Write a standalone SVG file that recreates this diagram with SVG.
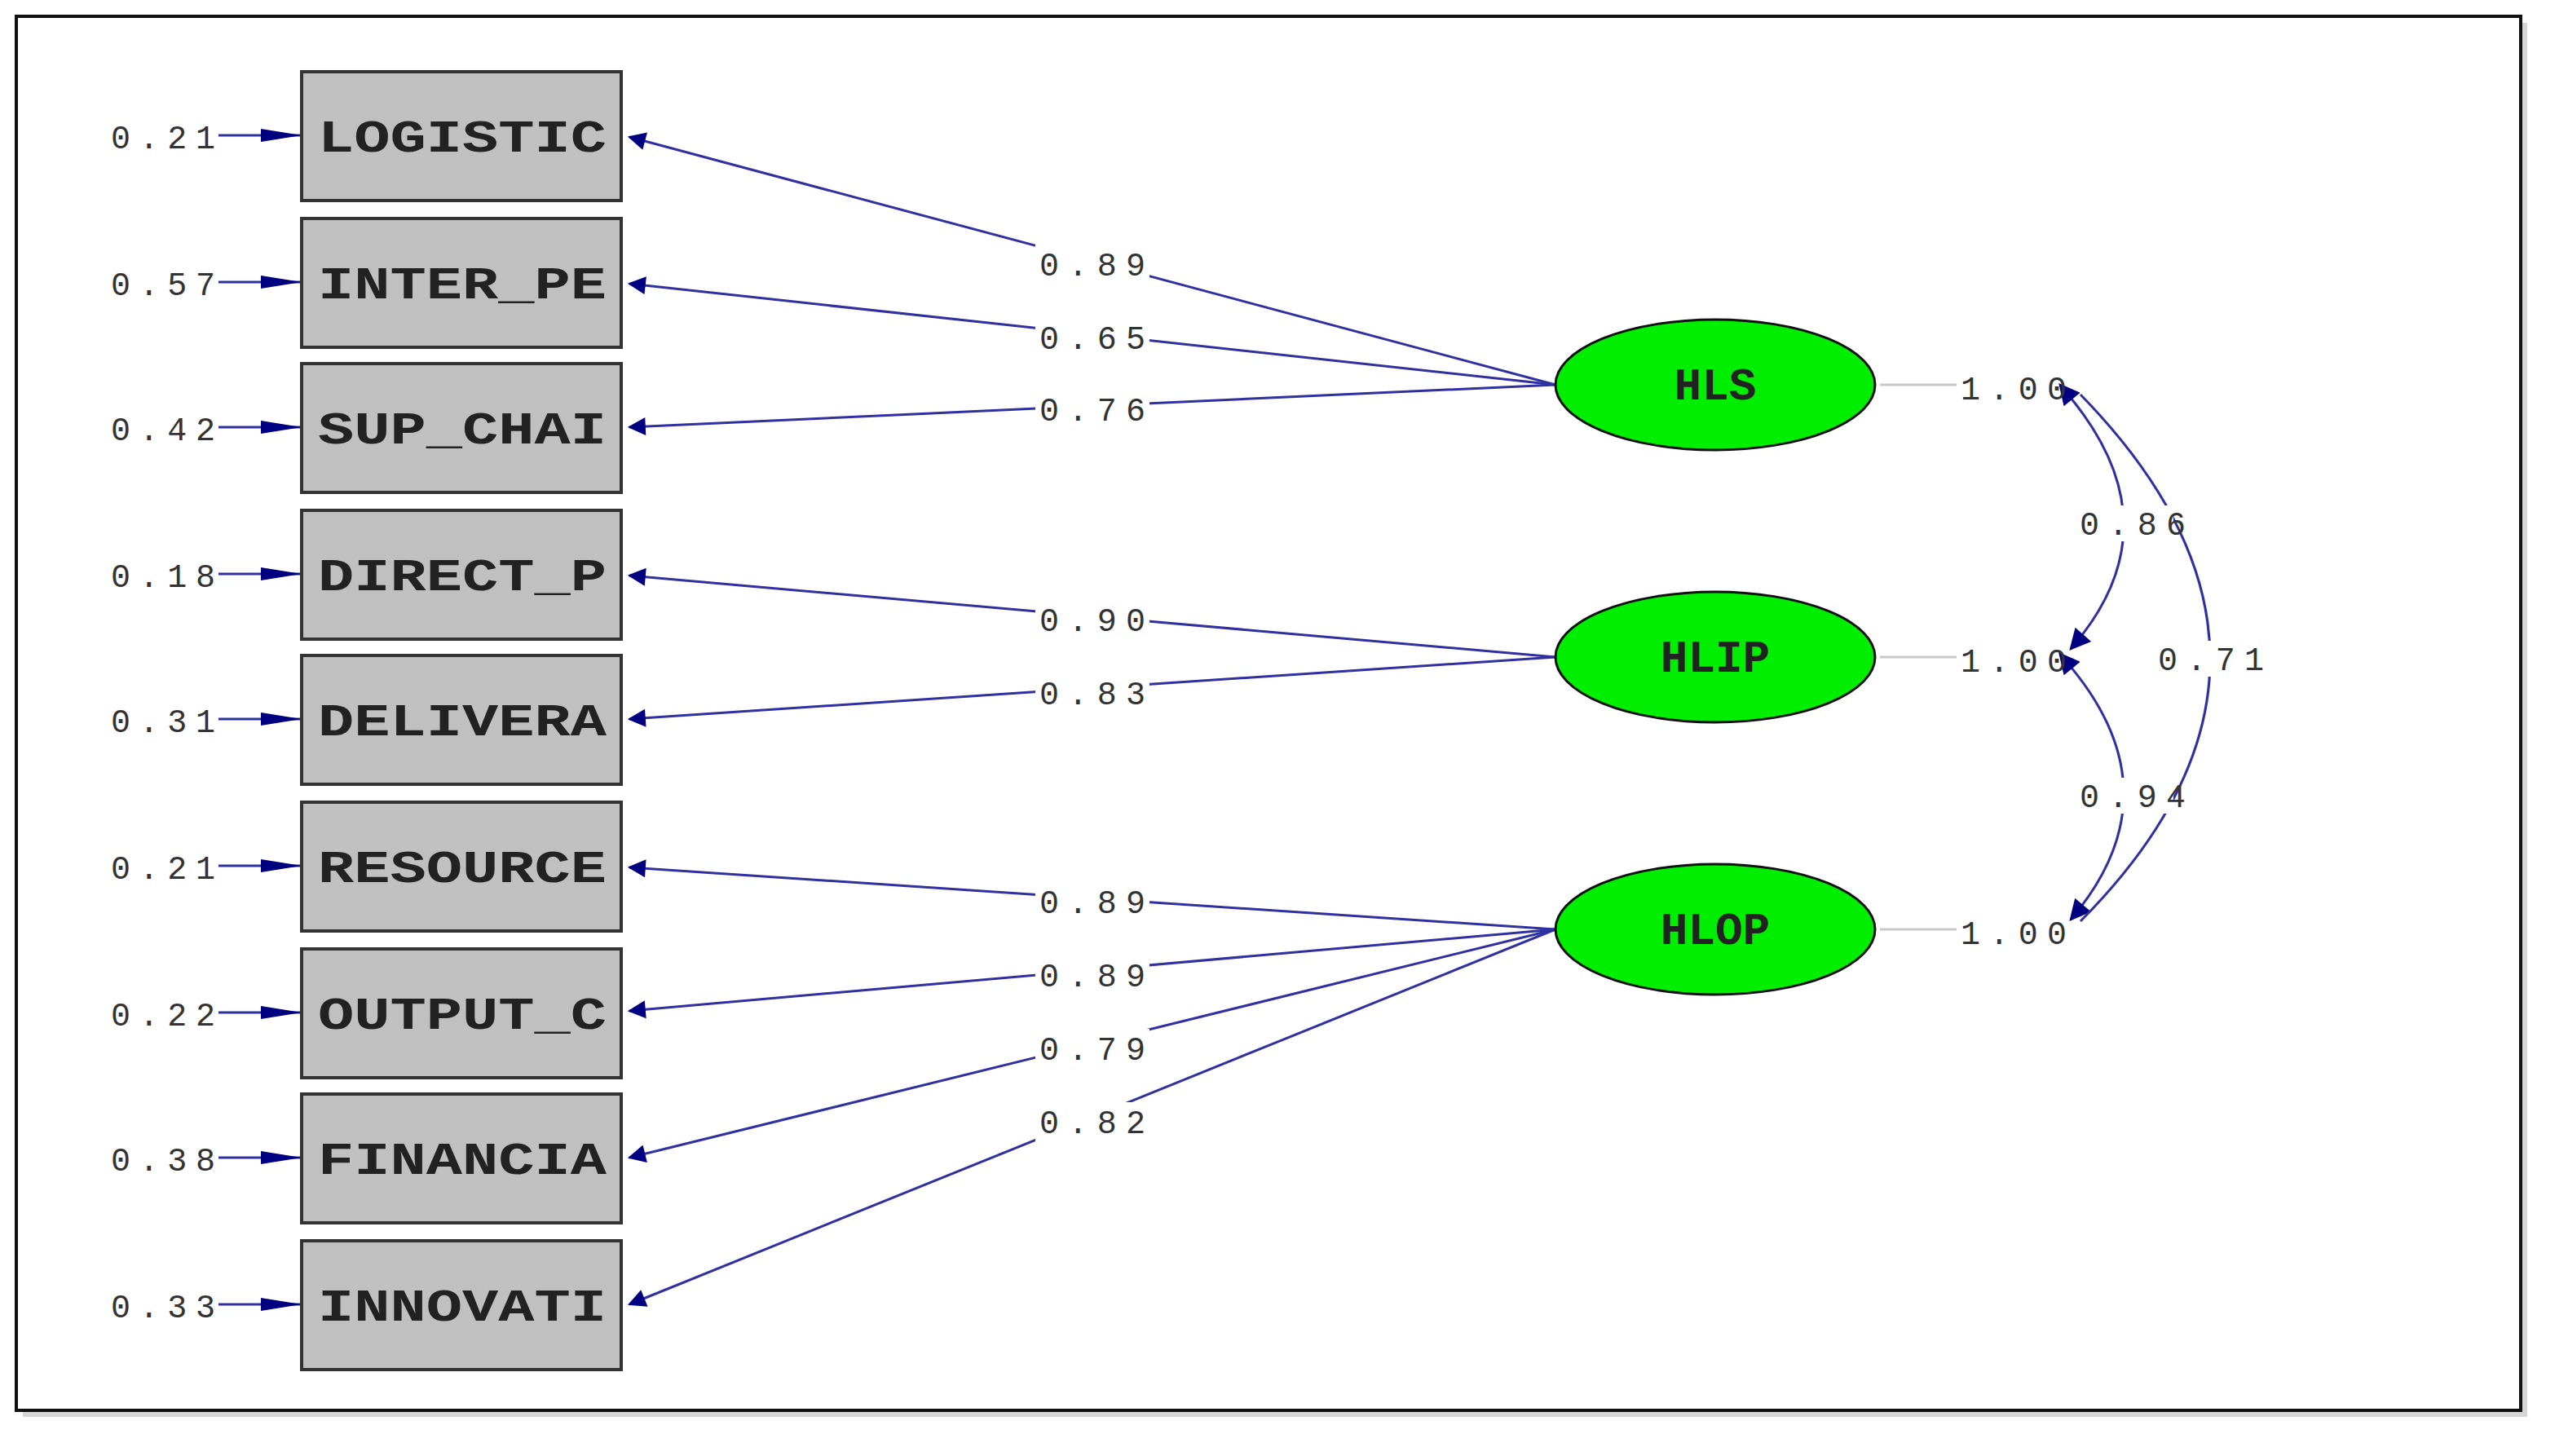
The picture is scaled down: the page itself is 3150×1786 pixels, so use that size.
<svg xmlns="http://www.w3.org/2000/svg" width="3150" height="1786" viewBox="0 0 3150 1786">
<style>
.box{fill:#c0c0c0;stroke:#333;stroke-width:4}
.lv{fill:#00ee00;stroke:#111;stroke-width:3}
.nt{font-family:"Liberation Mono",monospace;font-size:56px;font-weight:bold;fill:#222}
.lb{font-family:"Liberation Mono",monospace;font-size:40px;fill:#333}
.ln{fill:none;stroke:#3030a0;stroke-width:3}
.gl{fill:none;stroke:#c8c8c8;stroke-width:3}
.bg{fill:#fff}
</style>
<defs>
<marker id="ae" viewBox="0 0 10 10" refX="9" refY="5" markerWidth="30" markerHeight="22" markerUnits="userSpaceOnUse" orient="auto"><path d="M0,0 L10,5 L0,10 z" fill="#000080"/></marker>
<marker id="as" viewBox="0 0 10 10" refX="1" refY="5" markerWidth="36" markerHeight="26" markerUnits="userSpaceOnUse" orient="auto-start-reverse"><path d="M0,0 L10,5 L0,10 z" fill="#000080"/></marker>
<marker id="ac" viewBox="0 0 10 10" refX="9" refY="5" markerWidth="36" markerHeight="26" markerUnits="userSpaceOnUse" orient="auto"><path d="M0,0 L10,5 L0,10 z" fill="#000080"/></marker>
</defs>
<rect x="0" y="0" width="3150" height="1786" fill="#fff"/>
<rect x="28" y="28" width="3072" height="1710" fill="#bbb" opacity="0.6"/>
<rect x="20" y="20" width="3072" height="1710" fill="#fff" stroke="#111" stroke-width="4"/>
<g id="connectors">
<path class="ln" d="M1908,472 L772,168" marker-end="url(#ae)"/>
<path class="ln" d="M1908,472 L772,348" marker-end="url(#ae)"/>
<path class="ln" d="M1908,472 L772,524" marker-end="url(#ae)"/>
<path class="ln" d="M1908,806 L772,706" marker-end="url(#ae)"/>
<path class="ln" d="M1908,806 L772,882" marker-end="url(#ae)"/>
<path class="ln" d="M1908,1140 L772,1064" marker-end="url(#ae)"/>
<path class="ln" d="M1908,1140 L772,1240" marker-end="url(#ae)"/>
<path class="ln" d="M1908,1140 L772,1420" marker-end="url(#ae)"/>
<path class="ln" d="M1908,1140 L772,1600" marker-end="url(#ae)"/>
<path class="gl" d="M2306,472 L2400,472 M2306,806 L2400,806 M2306,1140 L2400,1140"/>
<path class="ln" d="M2540,488 Q2670,647 2540,796" marker-start="url(#as)" marker-end="url(#ac)"/>
<path class="ln" d="M2540,818 Q2670,975 2540,1128" marker-start="url(#as)" marker-end="url(#ac)"/>
<path class="ln" d="M2552,484 Q2870,810 2552,1130"/>
<g class="lb">
<rect class="bg" x="1270" y="300" width="140" height="50"/><text x="1340" y="338" text-anchor="middle" textLength="130">0.89</text>
<rect class="bg" x="1270" y="390" width="140" height="50"/><text x="1340" y="428" text-anchor="middle" textLength="130">0.65</text>
<rect class="bg" x="1270" y="478" width="140" height="50"/><text x="1340" y="516" text-anchor="middle" textLength="130">0.76</text>
<rect class="bg" x="1270" y="736" width="140" height="50"/><text x="1340" y="774" text-anchor="middle" textLength="130">0.90</text>
<rect class="bg" x="1270" y="826" width="140" height="50"/><text x="1340" y="864" text-anchor="middle" textLength="130">0.83</text>
<rect class="bg" x="1270" y="1082" width="140" height="50"/><text x="1340" y="1120" text-anchor="middle" textLength="130">0.89</text>
<rect class="bg" x="1270" y="1172" width="140" height="50"/><text x="1340" y="1210" text-anchor="middle" textLength="130">0.89</text>
<rect class="bg" x="1270" y="1262" width="140" height="50"/><text x="1340" y="1300" text-anchor="middle" textLength="130">0.79</text>
<rect class="bg" x="1270" y="1352" width="140" height="50"/><text x="1340" y="1390" text-anchor="middle" textLength="130">0.82</text>
<text x="2470" y="490" text-anchor="middle" textLength="130">1.00</text>
<text x="2470" y="824" text-anchor="middle" textLength="130">1.00</text>
<text x="2470" y="1158" text-anchor="middle" textLength="130">1.00</text>
<rect class="bg" x="2556" y="620" width="110" height="44"/><text x="2616" y="656" text-anchor="middle" textLength="130">0.86</text>
<rect class="bg" x="2646" y="786" width="130" height="44"/><text x="2712" y="822" text-anchor="middle" textLength="130">0.71</text>
<rect class="bg" x="2556" y="954" width="110" height="44"/><text x="2616" y="990" text-anchor="middle" textLength="130">0.94</text>
</g>
<g class="lb">
<path class="ln" d="M268,166 L368,166 M268,346 L368,346 M268,524 L368,524 M268,704 L368,704 M268,882 L368,882 M268,1062 L368,1062 M268,1242 L368,1242 M268,1420 L368,1420 M268,1600 L368,1600"/>
<path fill="#000080" d="M320,158 L370,166 L320,174 z M320,338 L370,346 L320,354 z M320,516 L370,524 L320,532 z M320,696 L370,704 L320,712 z M320,874 L370,882 L320,890 z M320,1054 L370,1062 L320,1070 z M320,1234 L370,1242 L320,1250 z M320,1412 L370,1420 L320,1428 z M320,1592 L370,1600 L320,1608 z"/>
<text x="136" y="182" textLength="128">0.21</text>
<text x="136" y="362" textLength="128">0.57</text>
<text x="136" y="540" textLength="128">0.42</text>
<text x="136" y="720" textLength="128">0.18</text>
<text x="136" y="898" textLength="128">0.31</text>
<text x="136" y="1078" textLength="128">0.21</text>
<text x="136" y="1258" textLength="128">0.22</text>
<text x="136" y="1436" textLength="128">0.38</text>
<text x="136" y="1616" textLength="128">0.33</text>
</g>
</g>
<g id="n_LOGISTIC"><rect class="box" x="370" y="88" width="392" height="158"/><text class="nt" x="390" y="186" textLength="354" lengthAdjust="spacingAndGlyphs">LOGISTIC</text></g>
<g id="n_INTER_PE"><rect class="box" x="370" y="268" width="392" height="158"/><text class="nt" x="390" y="366" textLength="354" lengthAdjust="spacingAndGlyphs">INTER_PE</text></g>
<g id="n_SUP_CHAI"><rect class="box" x="370" y="446" width="392" height="158"/><text class="nt" x="390" y="544" textLength="354" lengthAdjust="spacingAndGlyphs">SUP_CHAI</text></g>
<g id="n_DIRECT_P"><rect class="box" x="370" y="626" width="392" height="158"/><text class="nt" x="390" y="724" textLength="354" lengthAdjust="spacingAndGlyphs">DIRECT_P</text></g>
<g id="n_DELIVERA"><rect class="box" x="370" y="804" width="392" height="158"/><text class="nt" x="390" y="902" textLength="354" lengthAdjust="spacingAndGlyphs">DELIVERA</text></g>
<g id="n_RESOURCE"><rect class="box" x="370" y="984" width="392" height="158"/><text class="nt" x="390" y="1082" textLength="354" lengthAdjust="spacingAndGlyphs">RESOURCE</text></g>
<g id="n_OUTPUT_C"><rect class="box" x="370" y="1164" width="392" height="158"/><text class="nt" x="390" y="1262" textLength="354" lengthAdjust="spacingAndGlyphs">OUTPUT_C</text></g>
<g id="n_FINANCIA"><rect class="box" x="370" y="1342" width="392" height="158"/><text class="nt" x="390" y="1440" textLength="354" lengthAdjust="spacingAndGlyphs">FINANCIA</text></g>
<g id="n_INNOVATI"><rect class="box" x="370" y="1522" width="392" height="158"/><text class="nt" x="390" y="1620" textLength="354" lengthAdjust="spacingAndGlyphs">INNOVATI</text></g>
<g id="n_HLS"><ellipse class="lv" cx="2104" cy="472" rx="196" ry="80"/><text class="nt" x="2104" y="490" text-anchor="middle">HLS</text></g>
<g id="n_HLIP"><ellipse class="lv" cx="2104" cy="806" rx="196" ry="80"/><text class="nt" x="2104" y="824" text-anchor="middle">HLIP</text></g>
<g id="n_HLOP"><ellipse class="lv" cx="2104" cy="1140" rx="196" ry="80"/><text class="nt" x="2104" y="1158" text-anchor="middle">HLOP</text></g>
</svg>
